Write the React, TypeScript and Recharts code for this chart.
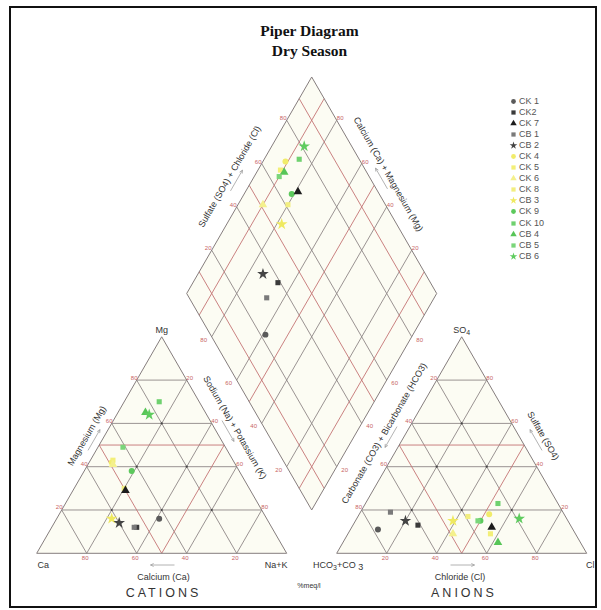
import React from 'react';
import {
  ScatterChart,
  Scatter,
  XAxis,
  YAxis,
  ReferenceLine,
  ReferenceArea,
  ReferenceDot,
  Symbols,
} from 'recharts';

// ---- data (% meq/l) ----
const samples = ['CK 1', 'CK2', 'CK 7', 'CB 1', 'CB 2', 'CK 4', 'CK 5', 'CK 6', 'CK 8', 'CB 3', 'CK 9', 'CK 10', 'CB 4', 'CB 5', 'CB 6'];
const markerTypes = ['circle', 'square', 'triangle', 'square', 'star', 'circle', 'square', 'triangle', 'square', 'star', 'circle', 'square', 'triangle', 'square', 'star'] as const;
const markerColors = ['#5a5a5a', '#3a3a3a', '#1c1c1c', '#7a7a7a', '#444444', '#f1ec6a', '#f3ef78', '#f4f08c', '#f2ee80', '#efe960', '#5cc95c', '#6fd16f', '#57c557', '#7ad67a', '#5fcc5f'];

const caPct = [43, 54, 50, 55, 60, 49, 48, 49, 50, 62, 43, 16, 24, 41, 23];
const mgPct = [16, 12, 29, 12, 14, 42, 43, 41, 30, 16, 38, 70, 65, 49, 64];
const naKPct = [41, 34, 21, 33, 26, 9, 9, 10, 20, 22, 19, 14, 11, 10, 13];
const hco3Pct = [78, 61, 32, 69, 65, 30, 34, 49, 39, 46, 35, 24, 33, 36, 19];
const so4Pct = [11, 13, 12, 19, 15, 18, 9, 9, 17, 15, 15, 23, 5, 15, 16];
const clPct = [11, 26, 56, 12, 20, 52, 57, 42, 44, 39, 50, 53, 62, 49, 65];

const gridPct = [20, 40, 60, 80];
const faciesPct = [50];
const diamondFaciesPct = [10, 50, 90];

// ---- layout ----
const W = 601;
const HGT = 610;
const PX = 2.5; // px per % unit
const X0 = 36.7; // pixel x of the Ca corner
const Y0 = 553.3; // pixel y of the triangle bases
const SIDE = 100;
const GAP = 20;
const TH = (SIDE * Math.sqrt(3)) / 2;

const markerSize: Record<string, number> = { circle: 28, square: 26, triangle: 32, star: 42 };

type P = { x: number; y: number };
const catXY = (ca: number, mg: number, na: number): P => ({ x: na + mg / 2, y: (mg * TH) / 100 });
const anXY = (hco3: number, so4: number, cl: number): P => ({ x: SIDE + GAP + cl + so4 / 2, y: (so4 * TH) / 100 });
const diaXY = (s: number, t: number): P => ({
  x: SIDE + GAP / 2 + (t - s) / 2,
  y: (GAP * TH) / SIDE + ((s + t) * TH) / 100,
});
const ux = (px: number) => (px - X0) / PX;
const uy = (py: number) => (Y0 - py) / PX;
const shift = (p: P, dx: number, dy: number): P => ({ x: p.x + dx / PX, y: p.y - dy / PX });

type Seg = [P, P];
const gridSegs: Seg[] = [];
const redSegs: Seg[] = [];
const triLines = (v: number, out: Seg[]) => {
  out.push([catXY(100 - v, v, 0), catXY(0, v, 100 - v)]);
  out.push([catXY(v, 0, 100 - v), catXY(v, 100 - v, 0)]);
  out.push([catXY(100 - v, 0, v), catXY(0, 100 - v, v)]);
  out.push([anXY(100 - v, v, 0), anXY(0, v, 100 - v)]);
  out.push([anXY(v, 0, 100 - v), anXY(v, 100 - v, 0)]);
  out.push([anXY(100 - v, 0, v), anXY(0, 100 - v, v)]);
};
gridPct.forEach((v) => {
  triLines(v, gridSegs);
  gridSegs.push([diaXY(v, 0), diaXY(v, 100)]);
  gridSegs.push([diaXY(0, v), diaXY(100, v)]);
});
faciesPct.forEach((v) => triLines(v, redSegs));
diamondFaciesPct.forEach((v) => {
  redSegs.push([diaXY(v, 0), diaXY(v, 100)]);
  redSegs.push([diaXY(0, v), diaXY(100, v)]);
});
const outline: Seg[] = [
  [catXY(100, 0, 0), catXY(0, 0, 100)],
  [catXY(0, 0, 100), catXY(0, 100, 0)],
  [catXY(0, 100, 0), catXY(100, 0, 0)],
  [anXY(100, 0, 0), anXY(0, 0, 100)],
  [anXY(0, 0, 100), anXY(0, 100, 0)],
  [anXY(0, 100, 0), anXY(100, 0, 0)],
  [diaXY(0, 0), diaXY(100, 0)],
  [diaXY(100, 0), diaXY(100, 100)],
  [diaXY(100, 100), diaXY(0, 100)],
  [diaXY(0, 100), diaXY(0, 0)],
];

// interior nodes where three grid lines meet
const nodes: P[] = [];
gridPct.forEach((mg) =>
  gridPct.forEach((na) => {
    if (mg + na < 100) {
      nodes.push(catXY(100 - mg - na, mg, na));
      nodes.push(anXY(100 - mg - na, mg, na));
    }
  })
);

// red tick numbers
const tickLabels: { p: P; v: number }[] = [];
gridPct.forEach((v) => {
  tickLabels.push({ p: shift(catXY(v, 0, 100 - v), -1.5, 5), v });
  tickLabels.push({ p: shift(catXY(100 - v, v, 0), -2.5, -2.5), v });
  tickLabels.push({ p: shift(catXY(0, 100 - v, v), 3, -2.5), v });
  tickLabels.push({ p: shift(anXY(100 - v, 0, v), -1.5, 5), v });
  tickLabels.push({ p: shift(anXY(v, 100 - v, 0), -3, -2.5), v });
  tickLabels.push({ p: shift(anXY(0, v, 100 - v), 3, -2.5), v });
  tickLabels.push({ p: shift(diaXY(100, v), -3.5, -2), v });
  tickLabels.push({ p: shift(diaXY(v, 100), 3.5, -2), v });
  tickLabels.push({ p: shift(diaXY(v, 0), -8, 3), v });
  tickLabels.push({ p: shift(diaXY(0, v), 8, 3), v });
});

// little direction arrows next to axis names (pixel centre, angle, direction)
const arrowSpecs: [number, number, number, number][] = [
  [162.5, 565, 0, -1],
  [462.5, 565, 0, 1],
  [94, 440, -60, 1],
  [228, 431, 60, 1],
  [391, 437, -60, -1],
  [536, 440, 60, -1],
  [236.5, 180.5, -60, 1],
  [381.5, 178.5, 60, -1],
];
const arrowSegs: Seg[] = [];
arrowSpecs.forEach(([cx, cy, ang, dir]) => {
  const a = (ang * Math.PI) / 180;
  const dx = Math.cos(a);
  const dy = Math.sin(a);
  const half = 12;
  const s = { x: cx - dx * half, y: cy - dy * half };
  const e = { x: cx + dx * half, y: cy + dy * half };
  const tip = dir > 0 ? e : s;
  const toP = (q: { x: number; y: number }): P => ({ x: ux(q.x), y: uy(q.y) });
  arrowSegs.push([toP(s), toP(e)]);
  [25, -25].forEach((h) => {
    const b = a + (dir > 0 ? Math.PI : 0) + (h * Math.PI) / 180;
    arrowSegs.push([toP(tip), toP({ x: tip.x + Math.cos(b) * 3.5, y: tip.y + Math.sin(b) * 3.5 })]);
  });
});

const SANS = 'Liberation Sans, Arial, sans-serif';

function label(
  key: string,
  p: P,
  content: React.ReactNode,
  o: { anchor?: 'start' | 'middle' | 'end'; rotate?: number; size?: number; fill?: string; spacing?: number; central?: boolean } = {}
) {
  return (
    <ReferenceDot
      key={key}
      x={p.x}
      y={p.y}
      r={0}
      ifOverflow="visible"
      shape={(props: any) => (
        <text
          x={props.cx}
          y={props.cy}
          textAnchor={o.anchor ?? 'middle'}
          dominantBaseline={o.central ? 'central' : 'auto'}
          transform={o.rotate ? `rotate(${o.rotate} ${props.cx} ${props.cy})` : undefined}
          fontFamily={SANS}
          fontSize={o.size ?? 9}
          letterSpacing={o.spacing ?? 0}
          fill={o.fill ?? '#333'}
        >
          {content}
        </text>
      )}
    />
  );
}

const triShape = (props: any) => {
  const { x, y, width, height } = props;
  return (
    <polygon
      points={`${x},${y + height} ${x + width},${y + height} ${x + width / 2},${y}`}
      fill="#fcfcf3"
      stroke="none"
    />
  );
};
const diamondShape = (props: any) => {
  const { x, y, width, height } = props;
  return (
    <polygon
      points={`${x + width / 2},${y} ${x + width},${y + height / 2} ${x + width / 2},${y + height} ${x},${y + height / 2}`}
      fill="#fcfcf3"
      stroke="none"
    />
  );
};

const drawOrder = [5, 6, 7, 8, 9, 10, 11, 12, 13, 14, 0, 1, 2, 3, 4];

export default function App() {
  return (
    <div style={{ position: 'absolute', left: 0, top: 0, width: W, height: HGT, background: '#fff' }}>
      <div
        style={{
          position: 'absolute',
          left: 9,
          top: 6,
          width: 588,
          height: 602,
          border: '2px solid #111',
          boxSizing: 'border-box',
        }}
      />
      <div
        style={{
          position: 'absolute',
          left: 0,
          top: 21,
          width: 619,
          textAlign: 'center',
          fontFamily: 'Liberation Serif, Times New Roman, serif',
          fontWeight: 'bold',
          fontSize: 15.5,
          lineHeight: '19.5px',
          color: '#111',
        }}
      >
        <div>Piper Diagram</div>
        <div>Dry Season</div>
      </div>

      <div style={{ position: 'absolute', left: 0, top: 0 }}>
        <ScatterChart width={W} height={HGT} margin={{ top: 0, right: 0, bottom: 0, left: 0 }}>
          <XAxis type="number" dataKey="x" domain={[ux(0), ux(W)]} hide allowDataOverflow />
          <YAxis type="number" dataKey="y" domain={[uy(HGT), uy(0)]} hide allowDataOverflow />

          <ReferenceArea x1={0} x2={SIDE} y1={0} y2={TH} ifOverflow="visible" shape={triShape} />
          <ReferenceArea x1={SIDE + GAP} x2={2 * SIDE + GAP} y1={0} y2={TH} ifOverflow="visible" shape={triShape} />
          <ReferenceArea
            x1={diaXY(100, 0).x}
            x2={diaXY(0, 100).x}
            y1={diaXY(0, 0).y}
            y2={diaXY(100, 100).y}
            ifOverflow="visible"
            shape={diamondShape}
          />

          {gridSegs.map((s, i) => (
            <ReferenceLine key={`g${i}`} segment={s} stroke="#8f8787" strokeWidth={0.9} ifOverflow="visible" />
          ))}
          {redSegs.map((s, i) => (
            <ReferenceLine key={`r${i}`} segment={s} stroke="#c47474" strokeWidth={0.9} ifOverflow="visible" />
          ))}
          {outline.map((s, i) => (
            <ReferenceLine key={`o${i}`} segment={s} stroke="#857d7d" strokeWidth={1} ifOverflow="visible" />
          ))}
          {arrowSegs.map((s, i) => (
            <ReferenceLine key={`a${i}`} segment={s} stroke="#a0a0a0" strokeWidth={0.8} ifOverflow="visible" />
          ))}
          {nodes.map((p, i) => (
            <ReferenceDot key={`n${i}`} x={p.x} y={p.y} r={1.1} fill="#444" stroke="none" ifOverflow="visible" />
          ))}

          {tickLabels.map((t, i) =>
            label(`t${i}`, t.p, t.v, { size: 6, fill: '#c86464', central: true })
          )}

          {label('mg', shift(catXY(0, 100, 0), 0, -3.8), 'Mg')}
          {label(
            'so4',
            shift(anXY(0, 100, 0), 0, -3.8),
            <>
              SO<tspan fontSize={7} dy={2}>4</tspan>
            </>
          )}
          {label('ca', { x: ux(37.5), y: uy(568) }, 'Ca', { anchor: 'start' })}
          {label('nak', { x: ux(287.5), y: uy(568) }, 'Na+K', { anchor: 'end' })}
          {label(
            'hco3',
            { x: ux(313), y: uy(568) },
            <>
              HCO<tspan fontSize={7} dy={2}>3</tspan>
              <tspan dy={-2}>+CO </tspan>
              <tspan fontSize={9} dy={2}>3</tspan>
            </>,
            { anchor: 'start' }
          )}
          {label('cl', { x: ux(586), y: uy(568) }, 'Cl', { anchor: 'start' })}
          {label('calcium', { x: ux(163.5), y: uy(580) }, 'Calcium (Ca)')}
          {label('chloride', { x: ux(460), y: uy(580) }, 'Chloride (Cl)')}
          {label('cations', { x: ux(163.5), y: uy(596.5) }, 'CATIONS', { size: 12.5, spacing: 3 })}
          {label('anions', { x: ux(464), y: uy(596.5) }, 'ANIONS', { size: 12.5, spacing: 3 })}
          {label('meq', { x: ux(309), y: uy(587.5) }, '%meq/l', { size: 7 })}

          {label('magn', { x: ux(86.7), y: uy(435.8) }, 'Magnesium (Mg)', { rotate: -60, central: true })}
          {label('sod', { x: ux(235), y: uy(427.5) }, 'Sodium (Na) + Potassium (K)', { rotate: 60, central: true })}
          {label('carb', { x: ux(384.2), y: uy(433.3) }, 'Carbonate (CO3) + Bicarbonate (HCO3)', {
            rotate: -60,
            central: true,
          })}
          {label('sulf', { x: ux(543.3), y: uy(435.8) }, 'Sulfate (SO4)', { rotate: 60, central: true })}
          {label('sulfcl', { x: ux(229.5), y: uy(176.5) }, 'Sulfate (SO4) + Chloride (Cl)', {
            rotate: -60,
            central: true,
          })}
          {label('camg', { x: ux(388.3), y: uy(174.2) }, 'Calcium (Ca) + Magnesium (Mg)', {
            rotate: 60,
            central: true,
          })}

          {drawOrder.map((i) => (
            <Scatter
              key={samples[i]}
              name={samples[i]}
              data={[
                catXY(caPct[i], mgPct[i], naKPct[i]),
                anXY(hco3Pct[i], so4Pct[i], clPct[i]),
                diaXY(caPct[i] + mgPct[i], so4Pct[i] + clPct[i]),
              ]}
              shape={(props: any) => (
                <Symbols
                  cx={props.cx}
                  cy={props.cy}
                  type={markerTypes[i]}
                  size={markerSize[markerTypes[i]]}
                  fill={markerColors[i]}
                />
              )}
              fill={markerColors[i]}
              isAnimationActive={false}
            />
          ))}
        </ScatterChart>
      </div>

      <div
        style={{
          position: 'absolute',
          left: 509,
          top: 96,
          fontFamily: SANS,
          fontSize: 9,
          color: '#555',
        }}
      >
        {samples.map((name, i) => (
          <div key={name} style={{ height: 11.05, display: 'flex', alignItems: 'center' }}>
            <svg width={9} height={9} style={{ display: 'block' }}>
              <Symbols cx={4.5} cy={4.5} type={markerTypes[i]} size={18} fill={markerColors[i]} />
            </svg>
            <span style={{ marginLeft: 1, lineHeight: '11px' }}>{name}</span>
          </div>
        ))}
      </div>
    </div>
  );
}
